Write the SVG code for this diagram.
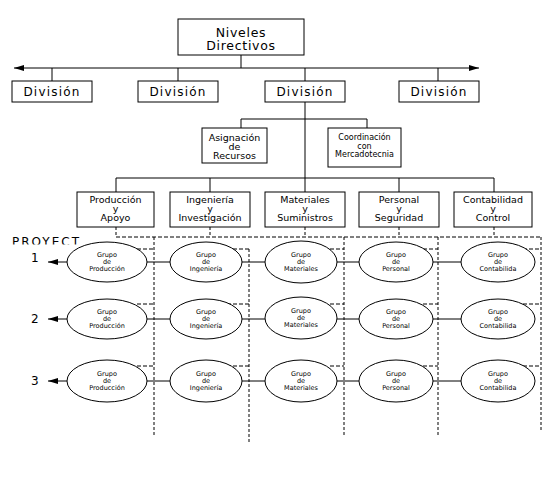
<svg xmlns="http://www.w3.org/2000/svg" width="542" height="478" viewBox="0 0 542 478">
<defs>
<marker id="arr" viewBox="0 0 10 6" refX="10" refY="3" markerWidth="10" markerHeight="6" markerUnits="userSpaceOnUse" orient="auto-start-reverse">
<path d="M0,0 L10,3 L0,6 Z" fill="#000"/>
</marker>
<clipPath id="pclip"><rect x="0" y="230" width="120" height="14.5"/></clipPath>
</defs>
<style>
.box{fill:#fff;stroke:#000;stroke-width:1}
.ell{fill:#fff;stroke:#000;stroke-width:1}
.ln{stroke:#000;stroke-width:1;fill:none}
.dh{stroke:#000;stroke-width:1;fill:none;stroke-dasharray:4 2}
.dv{stroke:#000;stroke-width:1;fill:none;stroke-dasharray:3 2}
text{font-family:"DejaVu Sans","Liberation Sans",sans-serif;fill:#000;text-anchor:middle}
.t1{font-size:12.5px;letter-spacing:0.7px}
.t2{font-size:12px;letter-spacing:1.2px}
.t3{font-size:9.5px}
.t4{font-size:8px}
.t5{font-size:6.5px}
.lab{font-size:12px;text-anchor:start}
</style>
<rect width="542" height="478" fill="#fff"/>
<g id="connectors">
<line class="ln" x1="14" y1="68" x2="479" y2="68" marker-start="url(#arr)" marker-end="url(#arr)"/>
<line class="ln" x1="241" y1="55" x2="241" y2="68"/>
<line class="ln" x1="52" y1="68" x2="52" y2="81"/>
<line class="ln" x1="178" y1="68" x2="178" y2="81"/>
<line class="ln" x1="305" y1="68" x2="305" y2="81"/>
<line class="ln" x1="438" y1="68" x2="438" y2="81"/>
<line class="ln" x1="305" y1="102" x2="305" y2="192"/>
<line class="ln" x1="241" y1="119" x2="367" y2="119"/>
<line class="ln" x1="241" y1="119" x2="241" y2="128"/>
<line class="ln" x1="367" y1="119" x2="367" y2="128"/>
<line class="ln" x1="116" y1="178" x2="494" y2="178"/>
<line class="ln" x1="116" y1="178" x2="116" y2="192"/>
<line class="ln" x1="210" y1="178" x2="210" y2="192"/>
<line class="ln" x1="399" y1="178" x2="399" y2="192"/>
<line class="ln" x1="494" y1="178" x2="494" y2="192"/>
<line class="dv" x1="116" y1="227" x2="116" y2="237"/>
<line class="dv" x1="210" y1="227" x2="210" y2="237"/>
<line class="dv" x1="305" y1="227" x2="305" y2="237"/>
<line class="dv" x1="399" y1="227" x2="399" y2="237"/>
<line class="dv" x1="494" y1="227" x2="494" y2="237"/>
<line class="dh" x1="116" y1="237" x2="542" y2="237"/>
<line class="dv" x1="154" y1="237" x2="154" y2="437"/>
<line class="dv" x1="249" y1="249" x2="249" y2="443"/>
<line class="dv" x1="344" y1="237" x2="344" y2="437"/>
<line class="dv" x1="438" y1="237" x2="438" y2="437"/>
<line class="dv" x1="541" y1="237" x2="541" y2="430"/>
<path class="dh" d="M137,249H154M227,249H249M330,249H344M423,249H438M523,249H541"/>
<path class="dh" d="M137,304H154M227,304H249M330,304H344M423,304H438M523,304H541"/>
<path class="dh" d="M137,366H154M227,366H249M330,366H344M423,366H438M523,366H541"/>
<path class="ln" d="M147,262H170M242,262H265M337,262H359M433,262H461"/>
<path class="ln" d="M147,319H170M242,319H265M337,319H359M433,319H461"/>
<path class="ln" d="M147,381H170M242,381H265M337,381H359M433,381H461"/>
<line class="ln" x1="67" y1="262" x2="48" y2="262" marker-end="url(#arr)"/>
<line class="ln" x1="67" y1="319" x2="48" y2="319" marker-end="url(#arr)"/>
<line class="ln" x1="67" y1="381" x2="48" y2="381" marker-end="url(#arr)"/>
</g>
<g id="niveles"><rect class="box" x="178" y="19" width="126" height="36"/><text class="t1" x="241" y="37">Niveles</text><text class="t1" x="241" y="50">Directivos</text></g>
<g id="div1"><rect class="box" x="12" y="81" width="80" height="21"/><text class="t2" x="52" y="96">División</text></g>
<g id="div2"><rect class="box" x="138" y="81" width="80" height="21"/><text class="t2" x="178" y="96">División</text></g>
<g id="div3"><rect class="box" x="265" y="81" width="80" height="21"/><text class="t2" x="305" y="96">División</text></g>
<g id="div4"><rect class="box" x="399" y="81" width="80" height="21"/><text class="t2" x="439" y="96">División</text></g>
<g id="asignacion"><rect class="box" x="202" y="128" width="65" height="35"/><text class="t3" x="234.5" y="141">Asignación</text><text class="t3" x="234.5" y="150">de</text><text class="t3" x="234.5" y="159">Recursos</text></g>
<g id="coordinacion"><rect class="box" x="328" y="128" width="73" height="39"/><text class="t4" x="364.5" y="140">Coordinación</text><text class="t4" x="364.5" y="148.5">con</text><text class="t4" x="364.5" y="157">Mercadotecnia</text></g>
<g id="produccion"><rect class="box" x="77" y="192" width="77" height="35"/><text class="t3" x="115.5" y="203">Producción</text><text class="t3" x="115.5" y="212">y</text><text class="t3" x="115.5" y="221">Apoyo</text></g>
<g id="ingenieria"><rect class="box" x="170" y="192" width="80" height="35"/><text class="t3" x="210" y="203">Ingeniería</text><text class="t3" x="210" y="212">y</text><text class="t3" x="210" y="221">Investigación</text></g>
<g id="materiales"><rect class="box" x="265" y="192" width="80" height="35"/><text class="t3" x="305" y="203">Materiales</text><text class="t3" x="305" y="212">y</text><text class="t3" x="305" y="221">Suministros</text></g>
<g id="personal"><rect class="box" x="359" y="192" width="80" height="35"/><text class="t3" x="399" y="203">Personal</text><text class="t3" x="399" y="212">y</text><text class="t3" x="399" y="221">Seguridad</text></g>
<g id="contabilidad"><rect class="box" x="454" y="192" width="78" height="35"/><text class="t3" x="493" y="203">Contabilidad</text><text class="t3" x="493" y="212">y</text><text class="t3" x="493" y="221">Control</text></g>
<g id="proyect"><text class="lab" x="12" y="246" clip-path="url(#pclip)" style="letter-spacing:2px">PROYECT</text></g>
<g id="labels"><text class="lab" x="31" y="262">1</text><text class="lab" x="31" y="323">2</text><text class="lab" x="31" y="385">3</text></g>
<g id="row1">
<g id="r1prod"><ellipse class="ell" cx="107" cy="262" rx="40" ry="20"/><text class="t5" x="107" y="257">Grupo</text><text class="t5" x="107" y="264">de</text><text class="t5" x="107" y="271">Producción</text></g>
<g id="r1ing"><ellipse class="ell" cx="206" cy="262" rx="36" ry="20"/><text class="t5" x="206" y="257">Grupo</text><text class="t5" x="206" y="264">de</text><text class="t5" x="206" y="271">Ingeniería</text></g>
<g id="r1mat"><ellipse class="ell" cx="301" cy="262" rx="36" ry="21"/><text class="t5" x="301" y="257">Grupo</text><text class="t5" x="301" y="264">de</text><text class="t5" x="301" y="271">Materiales</text></g>
<g id="r1per"><ellipse class="ell" cx="396" cy="262" rx="37" ry="20"/><text class="t5" x="396" y="257">Grupo</text><text class="t5" x="396" y="264">de</text><text class="t5" x="396" y="271">Personal</text></g>
<g id="r1con"><ellipse class="ell" cx="498" cy="262" rx="37" ry="20"/><text class="t5" x="498" y="257">Grupo</text><text class="t5" x="498" y="264">de</text><text class="t5" x="498" y="271">Contabilida</text></g>
</g>
<g id="row2">
<g id="r2prod"><ellipse class="ell" cx="107" cy="319" rx="40" ry="20"/><text class="t5" x="107" y="314">Grupo</text><text class="t5" x="107" y="321">de</text><text class="t5" x="107" y="328">Producción</text></g>
<g id="r2ing"><ellipse class="ell" cx="206" cy="319" rx="36" ry="20"/><text class="t5" x="206" y="314">Grupo</text><text class="t5" x="206" y="321">de</text><text class="t5" x="206" y="328">Ingeniería</text></g>
<g id="r2mat"><ellipse class="ell" cx="301" cy="318" rx="36" ry="21"/><text class="t5" x="301" y="313">Grupo</text><text class="t5" x="301" y="320">de</text><text class="t5" x="301" y="327">Materiales</text></g>
<g id="r2per"><ellipse class="ell" cx="396" cy="319" rx="37" ry="20"/><text class="t5" x="396" y="314">Grupo</text><text class="t5" x="396" y="321">de</text><text class="t5" x="396" y="328">Personal</text></g>
<g id="r2con"><ellipse class="ell" cx="498" cy="319" rx="37" ry="20"/><text class="t5" x="498" y="314">Grupo</text><text class="t5" x="498" y="321">de</text><text class="t5" x="498" y="328">Contabilida</text></g>
</g>
<g id="row3">
<g id="r3prod"><ellipse class="ell" cx="107" cy="381" rx="40" ry="21"/><text class="t5" x="107" y="376">Grupo</text><text class="t5" x="107" y="383">de</text><text class="t5" x="107" y="390">Producción</text></g>
<g id="r3ing"><ellipse class="ell" cx="206" cy="381" rx="36" ry="21"/><text class="t5" x="206" y="376">Grupo</text><text class="t5" x="206" y="383">de</text><text class="t5" x="206" y="390">Ingeniería</text></g>
<g id="r3mat"><ellipse class="ell" cx="301" cy="381" rx="36" ry="21"/><text class="t5" x="301" y="376">Grupo</text><text class="t5" x="301" y="383">de</text><text class="t5" x="301" y="390">Materiales</text></g>
<g id="r3per"><ellipse class="ell" cx="396" cy="381" rx="37" ry="21"/><text class="t5" x="396" y="376">Grupo</text><text class="t5" x="396" y="383">de</text><text class="t5" x="396" y="390">Personal</text></g>
<g id="r3con"><ellipse class="ell" cx="498" cy="381" rx="37" ry="21"/><text class="t5" x="498" y="376">Grupo</text><text class="t5" x="498" y="383">de</text><text class="t5" x="498" y="390">Contabilida</text></g>
</g>
</svg>
